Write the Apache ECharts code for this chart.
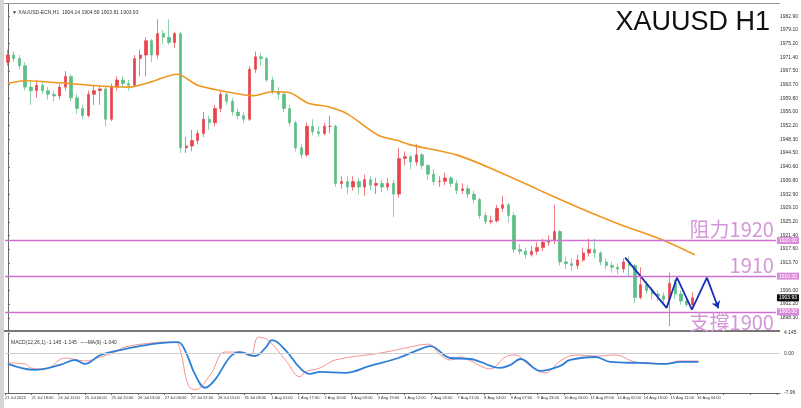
<!DOCTYPE html>
<html>
<head>
<meta charset="utf-8">
<script src="https://cdn.jsdelivr.net/npm/echarts@6/dist/echarts.min.js"></script>
<style>
  html, body { margin: 0; padding: 0; background: #fff; }
  #chart { width: 801px; height: 408px; }
</style>
</head>
<body>
<div id="chart"></div>
<script>
// candle closes (each candle ~3.5 H1 bars)
var closes = [1972, 1971, 1969, 1963, 1962, 1963.5, 1962, 1961, 1960.5, 1963,
  1966, 1960, 1957, 1955, 1961, 1962, 1962.5, 1954, 1963, 1965,
  1964, 1963.5, 1971, 1972, 1976, 1972, 1978, 1977, 1975.5, 1978,
  1946, 1946.5, 1948, 1950, 1954, 1953, 1957, 1961, 1959, 1956,
  1955, 1954, 1968, 1971.5, 1971, 1965, 1961.7, 1961, 1957, 1953,
  1946, 1944, 1952, 1950.5, 1950, 1952, 1952, 1936, 1936.5, 1935,
  1936.5, 1935, 1937, 1935.5, 1936, 1935, 1936, 1933, 1943, 1943.5,
  1942, 1944, 1941, 1938.6, 1936.5, 1936.6, 1937.5, 1936, 1934, 1934.5,
  1933, 1931.5, 1927, 1925.3, 1925.5, 1929, 1930, 1927, 1917.5, 1917,
  1916, 1917, 1918, 1919.5, 1920, 1922.5, 1914, 1913.5, 1913, 1914.5,
  1916.5, 1917.5, 1916.5, 1914, 1913, 1912.5, 1912, 1914, 1913, 1904,
  1907.6, 1906, 1905, 1904.5, 1903.5, 1908, 1905, 1903, 1902, 1903.93];
var highs = [1973.5, 1973, 1972, 1970, 1965, 1965, 1964.5, 1963, 1962, 1964,
  1967.5, 1966.5, 1961, 1958, 1962, 1963.5, 1963.5, 1963, 1964, 1966,
  1966, 1965, 1972, 1973.5, 1977, 1976.5, 1982, 1979, 1982, 1978.5,
  1978.5, 1949, 1951, 1951, 1956, 1955, 1958, 1962, 1961.5, 1960,
  1957, 1956, 1969, 1973, 1972.5, 1971.5, 1966, 1963, 1961.5, 1958,
  1953.5, 1947, 1953, 1954, 1952, 1953, 1955, 1952.5, 1938, 1938,
  1938, 1937.5, 1938.5, 1938, 1937.5, 1937, 1937.5, 1937, 1946, 1945,
  1944, 1947, 1944.5, 1941.5, 1940, 1938, 1939, 1938, 1937, 1936,
  1935.5, 1934, 1932, 1928, 1927, 1930, 1932.5, 1930.5, 1928, 1919,
  1918, 1918.5, 1919.5, 1920.5, 1921.5, 1930, 1923, 1915.5, 1915, 1916,
  1918, 1920.5, 1920.5, 1917, 1915, 1914, 1913.5, 1915, 1915.5, 1913.5,
  1912.5, 1908.5, 1907, 1906, 1905.5, 1911, 1909, 1906, 1904, 1905.5];
var lows = [1969, 1970, 1968, 1962, 1958, 1960, 1961, 1959.5, 1959, 1959.5,
  1962, 1959, 1955.5, 1954, 1954.5, 1958, 1958, 1952, 1953.5, 1962,
  1963, 1962, 1963, 1966, 1966, 1970, 1971, 1975, 1975, 1974,
  1944.5, 1944.5, 1945, 1947, 1949, 1951, 1952, 1956, 1958, 1955,
  1954, 1953, 1953.5, 1967, 1969, 1964.5, 1961, 1959.5, 1956, 1952,
  1945, 1943, 1943.5, 1949.5, 1949, 1949.5, 1950, 1935, 1934.5, 1933,
  1934, 1933, 1932.5, 1934, 1933, 1933.5, 1934, 1926.5, 1932, 1941,
  1940, 1941, 1940, 1937, 1935.5, 1935, 1935.5, 1935, 1933, 1933,
  1932, 1930.5, 1926, 1924.5, 1924.5, 1925, 1928, 1925, 1916.5, 1916,
  1915, 1915.5, 1916, 1917, 1918.5, 1919, 1913, 1912, 1911.5, 1912,
  1914, 1915.5, 1915, 1913, 1912, 1911, 1910.5, 1911, 1910, 1902.5,
  1903.5, 1905, 1903.5, 1903, 1902.5, 1896, 1903.5, 1902, 1901.5, 1901.5];
var firstOpen = 1970;

// moving average (orange) as [candle position, price]
var maPoints = [[0, 1964], [2.9, 1964.8], [9, 1964.2], [16, 1963.3], [21, 1963],
  [24.6, 1964.3], [29.4, 1966.6], [33, 1963.5], [37, 1962], [42.7, 1960.6],
  [46, 1961.7], [49, 1961.4], [52.2, 1958.5], [55.7, 1957.5], [59, 1955.5],
  [64.4, 1949.5], [67.8, 1948], [70, 1946.8], [78, 1944], [85.7, 1939],
  [92, 1934.4], [100, 1928.7], [106.4, 1924.5], [114, 1920], [119.4, 1916]];

// drawn projection (blue zigzag)
var pathPoints = [[107.3, 1915.2], [114.5, 1901.1], [116.3, 1909.6],
  [118.9, 1900.6], [121.5, 1909.6], [123.5, 1901]];

// MACD panel
var macdMain = [[0, -1.9], [3, -2.1], [3.9, -2.9], [6.4, -3.1], [9.9, -0.9], [13.3, -1.5],
  [16, -0.7], [18.5, 0.3], [20.2, 1.3], [24.6, 2.1], [27.2, 2.3], [29, 2.3],
  [29.8, 0.7], [31.2, -6.4], [32.4, -7.3], [35, -4.3], [37.5, 0.3], [40.1, 0.3],
  [41.9, -0.5], [43.3, 3.3], [45, 2.7], [48, -1.3], [50.5, -4.7], [51.4, -3.7],
  [54, -2.9], [56.6, -1.3], [64.4, 0.1], [68.7, 1.1], [72.7, 1.9], [74.8, -0.3],
  [76.5, -1.3], [78.2, -0.7], [80, -1.5], [83.4, -3.1], [86, -0.7], [87.7, -0.3],
  [90.3, -2.5], [92.9, -3.9], [95.5, -1.5], [98.1, -0.3], [101.6, -0.5], [105, -0.3],
  [108.5, -1.7], [111.1, -1.9], [113.7, -2.1], [116, -1.5], [119.4, -1.5]];
var macdSignal = [[0, -2.1], [4.7, -3.3], [9, -2.3], [11.6, -1.3], [13.3, -2.1],
  [16, -0.3], [19.4, 0.7], [22.8, 1.5], [26.3, 2.1], [29.4, 2.3], [30.6, 0.7],
  [32.4, -4.3], [34.1, -6.9], [35.8, -5.3], [38.4, -0.7], [40.1, 0.3], [42.7, -0.5],
  [44.5, 1.1], [45.7, 2.7], [48, 0.7], [50.5, -2.9], [52.2, -4.1], [54, -3.7],
  [58.3, -3.9], [62.6, -2.5], [67.5, -0.9], [71.3, 0.9], [73, 1.5], [76.5, -0.9],
  [80, -1.1], [81.7, -1.7], [85.1, -2.9], [86.9, -2.3], [88.6, -1.1], [92.1, -3.5],
  [95.5, -2.5], [97.2, -1.3], [101.6, -0.7], [104.2, -1.7], [109.3, -1.9],
  [113.7, -2.1], [116.3, -1.7], [119.4, -1.7]];

var priceTicks = [1894.5, 1898.3, 1902.2, 1906.0, 1913.7, 1917.6, 1921.4, 1925.2,
  1929.1, 1932.9, 1936.8, 1940.6, 1944.5, 1948.3, 1952.2, 1956.0, 1959.8,
  1963.7, 1967.5, 1971.4, 1975.2, 1979.1, 1982.9];
var timeLabels = ['21 Jul 2023', '21 Jul 18:00', '24 Jul 11:00', '25 Jul 04:00',
  '25 Jul 20:00', '26 Jul 13:00', '27 Jul 06:00', '27 Jul 22:00', '28 Jul 15:00',
  '31 Jul 08:00', '1 Aug 01:00', '1 Aug 17:00', '2 Aug 10:00', '3 Aug 03:00',
  '3 Aug 19:00', '4 Aug 12:00', '7 Aug 05:00', '7 Aug 21:00', '8 Aug 14:00',
  '9 Aug 07:00', '9 Aug 23:00', '10 Aug 16:00', '11 Aug 09:00', '14 Aug 02:00',
  '14 Aug 18:00', '15 Aug 11:00', '16 Aug 04:00'];
var levels = [1920, 1910, 1900];
var levelText = ['阻力1920', '1910', '支撐1900'];
var lastPrice = 1903.93;

var NCAT = 134;
var HOURS = 496, HOURS_PER_LABEL = 17;

var cats = [];
for (var i = 0; i < NCAT; i++) cats.push(i);
var candles = closes.map(function (c, i) {
  var o = i === 0 ? firstOpen : closes[i - 1];
  return [o, c, lows[i], highs[i]];
});
var hourCats = [];
for (var h = 0; h < HOURS; h++) {
  hourCats.push(h % HOURS_PER_LABEL === 0 ? (timeLabels[h / HOURS_PER_LABEL] || '') : '');
}

var pink = '#cf6fd2';
var pinkText = '#d596d9';
var levelLines = [];
levels.forEach(function (v, k) {
  levelLines.push({
    yAxis: v,
    lineStyle: { color: pink, width: 1.3, type: 'solid' },
    label: {
      show: true, position: k === 2 ? 'insideEndBottom' : 'insideEndTop',
      formatter: levelText[k], color: pinkText, fontSize: 20,
      fontFamily: 'Noto Sans CJK TC', distance: [2, 1]
    }
  });
});
// price tags sitting on the right axis
var tagLines = levels.map(function (v) {
  return {
    yAxis: v, lineStyle: { color: 'rgba(0,0,0,0)', width: 0.1 },
    label: {
      show: true, position: 'end', formatter: v.toFixed(2), color: '#fff',
      backgroundColor: '#d98ad9', fontSize: 5, padding: [1, 2], distance: 1
    }
  };
});
tagLines.push({
  yAxis: lastPrice, lineStyle: { color: 'rgba(0,0,0,0)', width: 0.1 },
  label: {
    show: true, position: 'end', formatter: lastPrice.toFixed(2), color: '#fff',
    backgroundColor: '#111', fontSize: 5, padding: [1, 2], distance: 1
  }
});

var chart = echarts.init(document.getElementById('chart'));
chart.setOption({
  animation: false,
  backgroundColor: '#fff',
  title: [
    { text: 'XAUUSD H1', right: 26, top: 4,
      textStyle: { fontSize: 27, fontWeight: 'normal', color: '#111', fontFamily: 'Liberation Sans' } },
    { text: '▼ XAUUSD-ECN,H1  1904.14 1904.59 1903.81 1903.93', left: 7, top: 5,
      textStyle: { fontSize: 5, fontWeight: 'normal', color: '#333' } },
    { text: 'MACD(12,26,1) -1.145 -1.145  ∼∼MA(9) -1.040', left: 6, top: 335,
      textStyle: { fontSize: 5, fontWeight: 'normal', color: '#333' } }
  ],
  graphic: [
    { type: 'rect', shape: { x: 0, y: 0, width: 4, height: 408 }, style: { fill: '#d4d4d4' } },
    { type: 'rect', shape: { x: 4, y: 330, width: 776, height: 2 }, style: { fill: '#777' } },
    { type: 'rect', shape: { x: 4, y: 3, width: 776, height: 1 }, style: { fill: '#999' } }
  ],
  grid: [
    { left: 5, right: 21, top: 4, height: 326 },
    { left: 5, right: 21, top: 333, height: 60 }
  ],
  xAxis: [
    { type: 'category', data: cats, gridIndex: 0, boundaryGap: true, show: false },
    { type: 'value', gridIndex: 0, min: -0.5, max: NCAT - 0.5, show: false },
    { type: 'value', gridIndex: 1, min: -0.5, max: NCAT - 0.5, show: false },
    { type: 'category', data: hourCats, gridIndex: 1, boundaryGap: false, position: 'bottom',
      axisLine: { lineStyle: { color: '#666' } },
      axisTick: { show: true, interval: function (idx) { return idx % HOURS_PER_LABEL === 0; }, length: 2, lineStyle: { color: '#666' } },
      axisLabel: { interval: 0, fontSize: 4, color: '#333', align: 'left', margin: 3, showMaxLabel: false } }
  ],
  yAxis: [
    { type: 'value', gridIndex: 0, position: 'right', min: 1894.9, max: 1986.3,
      splitLine: { show: false },
      axisLine: { show: true, lineStyle: { color: '#666' } },
      axisTick: { show: true, length: 2, customValues: priceTicks },
      axisLabel: { fontSize: 5, color: '#333', margin: 4, customValues: priceTicks,
        formatter: function (v) { return v.toFixed(2); } } },
    { type: 'value', gridIndex: 1, position: 'right', min: -7.96, max: 4.145,
      splitLine: { show: false },
      axisLine: { show: true, lineStyle: { color: '#666' } },
      axisTick: { show: true, length: 2, customValues: [-7.96, 0, 4.145] },
      axisLabel: { fontSize: 5, color: '#333', margin: 4, customValues: [-7.96, 0, 4.145],
        formatter: function (v) { return v === 0 ? '0.00' : String(v); } } }
  ],
  series: [
    {
      type: 'candlestick', xAxisIndex: 0, yAxisIndex: 0, data: candles, barMaxWidth: 3,
      itemStyle: { color: '#e8444a', color0: '#5cbf85', borderColor: '#e8444a', borderColor0: '#5cbf85', borderWidth: 0.7 },
      markLine: { symbol: 'none', silent: true, animation: false, data: levelLines }
    },
    {
      type: 'line', xAxisIndex: 1, yAxisIndex: 0, data: maPoints, smooth: 0.3, symbol: 'none',
      clip: false, lineStyle: { color: '#f0961e', width: 1.6 },
      markLine: { symbol: 'none', silent: true, animation: false, data: tagLines }
    },
    {
      type: 'line', xAxisIndex: 1, yAxisIndex: 0, data: pathPoints, symbol: function (v, p) {
        return p.dataIndex === pathPoints.length - 1 ? 'arrow' : 'none';
      },
      symbolSize: 7, symbolRotate: -158, lineStyle: { color: '#1a2fb8', width: 1.8 },
      itemStyle: { color: '#1a2fb8' }
    },
    {
      type: 'line', xAxisIndex: 2, yAxisIndex: 1, data: macdMain, smooth: 0.4, symbol: 'none',
      lineStyle: { color: '#f27777', width: 0.8 },
      markLine: { symbol: 'none', silent: true, data: [{ yAxis: 0 }], label: { show: false },
        lineStyle: { color: '#cfcfcf', type: 'solid', width: 1 } }
    },
    {
      type: 'line', xAxisIndex: 2, yAxisIndex: 1, data: macdSignal, smooth: 0.4, symbol: 'none',
      lineStyle: { color: '#2f7fd8', width: 1.8 }
    }
  ]
});
</script>
</body>
</html>
